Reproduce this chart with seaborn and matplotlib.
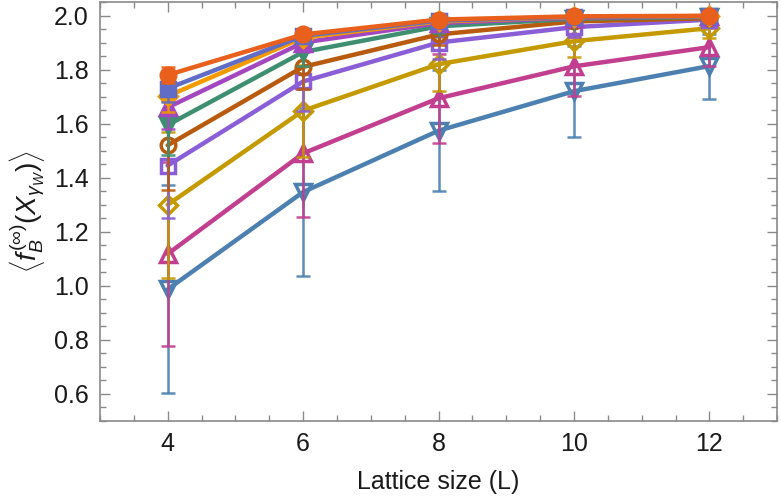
import numpy as np
import pandas as pd
import matplotlib
matplotlib.use("Agg")
import matplotlib.pyplot as plt
from matplotlib.ticker import MultipleLocator
import seaborn as sns

# DATA

lattice = [4, 6, 8, 10, 12]

s1_mean = [0.987, 1.347, 1.574, 1.720, 1.813]
s1_err = [0.385, 0.310, 0.225, 0.168, 0.120]
s2_mean = [1.118, 1.490, 1.694, 1.812, 1.883]
s2_err = [0.340, 0.237, 0.165, 0.110, 0.070]
s3_mean = [1.300, 1.648, 1.820, 1.905, 1.953]
s3_err = [0.270, 0.170, 0.100, 0.060, 0.035]
s4_mean = [1.445, 1.756, 1.900, 1.957, 1.985]
s4_err = [0.195, 0.110, 0.060, 0.035, 0.020]
s5_mean = [1.520, 1.810, 1.930, 1.978, 1.990]
s5_err = [0.165, 0.080, 0.040, 0.020, 0.010]
s6_mean = [1.595, 1.865, 1.960, 1.988, 1.995]
s6_err = [0.110, 0.050, 0.025, 0.010, 0.005]
s7_mean = [1.660, 1.900, 1.972, 1.992, 1.997]
s7_err = [0.080, 0.030, 0.015, 0.008, 0.004]
s8_mean = [1.702, 1.918, 1.978, 1.994, 1.998]
s8_err = [0.060, 0.020, 0.010, 0.005, 0.003]
s9_mean = [1.730, 1.925, 1.981, 1.995, 1.998]
s9_err = [0.050, 0.015, 0.008, 0.004, 0.002]
s10_mean = [1.780, 1.930, 1.985, 1.997, 1.999]
s10_err = [0.030, 0.010, 0.005, 0.003, 0.002]

# STYLE PER SERIES (bottom curve first, so the upper ones sit on top)

series = [
    (s1_mean, s1_err, "#4C80B0", "v", False),
    (s2_mean, s2_err, "#C23E8E", "^", False),
    (s3_mean, s3_err, "#C49A00", "D", False),
    (s4_mean, s4_err, "#8A5ED6", "s", False),
    (s5_mean, s5_err, "#B85B0E", "o", False),
    (s6_mean, s6_err, "#3E8F71", "v", True),
    (s7_mean, s7_err, "#A347C1", "^", True),
    (s8_mean, s8_err, "#F29A00", "D", True),
    (s9_mean, s9_err, "#5F6DC6", "s", True),
    (s10_mean, s10_err, "#E8601C", "o", True),
]

msizes = {"v": 12, "^": 12, "D": 9.5, "s": 10, "o": 10.5}

# PLOT

sns.set_style("ticks")
plt.rcParams["font.family"] = ["Liberation Sans", "DejaVu Sans"]
plt.rcParams["mathtext.fontset"] = "custom"
plt.rcParams["mathtext.rm"] = "Liberation Sans"
plt.rcParams["mathtext.it"] = "Liberation Sans:italic"
plt.rcParams["mathtext.bf"] = "Liberation Sans:bold"

fig, ax = plt.subplots(figsize=(7.81, 5.0), dpi=100)
fig.subplots_adjust(left=0.128, right=0.995, top=0.996, bottom=0.158)

for mean, err, color, marker, filled in series:
    df = pd.DataFrame({"L": lattice, "value": mean})
    ax.errorbar(lattice, mean, yerr=err, fmt="none", ecolor=color,
                elinewidth=1.8, capsize=4.8, capthick=1.8, alpha=0.9)
    sns.lineplot(data=df, x="L", y="value", ax=ax, color=color,
                 linewidth=3.2, marker=marker, markersize=msizes[marker],
                 markerfacecolor=color if filled else "none",
                 markeredgecolor=color, markeredgewidth=2.5)

ax.set_xlim(3, 13)
ax.set_ylim(0.5, 2.05)
ax.xaxis.set_major_locator(MultipleLocator(2))
ax.xaxis.set_minor_locator(MultipleLocator(0.5))
ax.yaxis.set_major_locator(MultipleLocator(0.2))
ax.yaxis.set_minor_locator(MultipleLocator(0.05))
ax.yaxis.set_major_formatter(plt.FormatStrFormatter("%.1f"))

ax.tick_params(which="both", direction="in", top=True, right=True,
               color="#8a8a8a", labelsize=18, labelcolor="#1a1a1a", pad=8)
ax.tick_params(which="major", length=7, width=1)
ax.tick_params(which="minor", length=4, width=1)
for sp in ax.spines.values():
    sp.set_color("#8a8a8a")
    sp.set_linewidth(1.2)

ax.set_xlabel("Lattice size (L)", fontsize=18, color="#1a1a1a", labelpad=10)
ax.set_ylabel(r"$\left\langle f_B^{(\infty)}(X_{\gamma_W})\right\rangle$",
              fontsize=20, color="#1a1a1a", labelpad=4)

plt.savefig("out.png", dpi=100)
plt.close()
